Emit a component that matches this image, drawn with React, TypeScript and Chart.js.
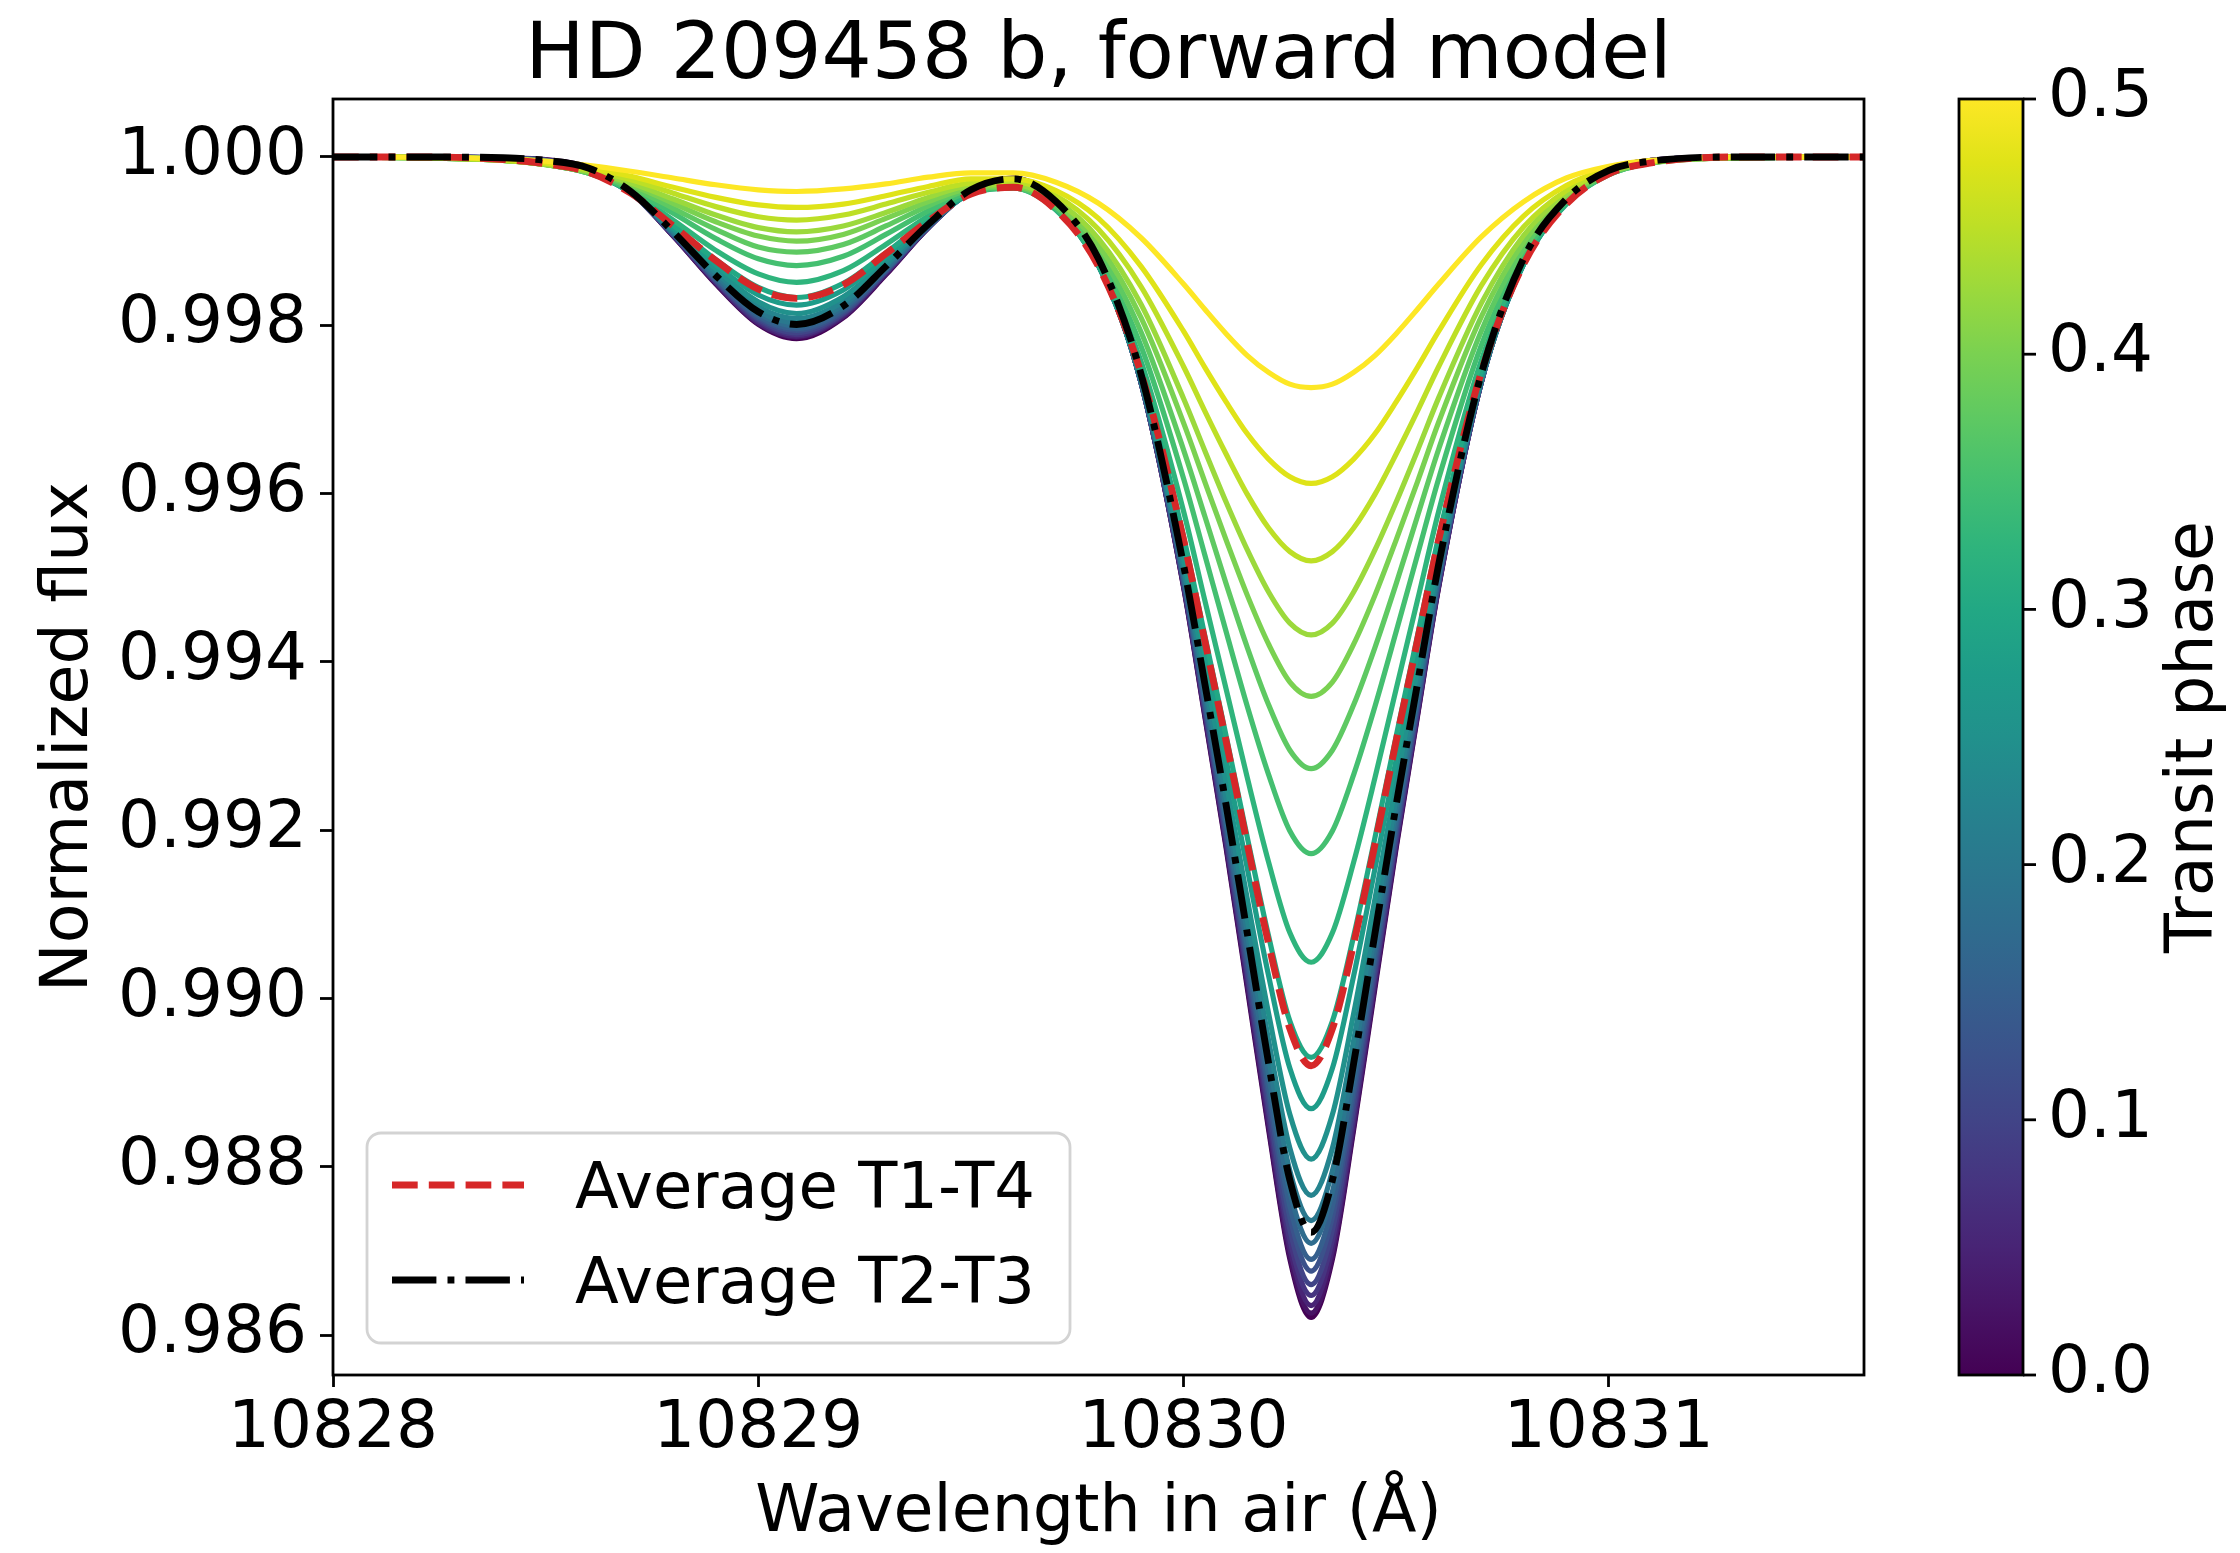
import React, { useEffect, useRef } from "react";
import { Chart, registerables } from "chart.js";

Chart.register(...registerables);

// ---------- text ----------
const TITLE = "HD 209458 b, forward model";
const X_LABEL = "Wavelength in air (Å)";
const Y_LABEL = "Normalized flux";
const CB_LABEL = "Transit phase";
const LEGEND_T1_T4 = "Average T1-T4";
const LEGEND_T2_T3 = "Average T2-T3";

// ---------- ticks ----------
const X_TICKS = [10828, 10829, 10830, 10831];
const Y_TICKS = [0.986, 0.988, 0.99, 0.992, 0.994, 0.996, 0.998, 1.0];
const CB_TICKS = [0, 0.1, 0.2, 0.3, 0.4, 0.5];

// ---------- data ----------
const WAVELENGTHS = [
  10828.0, 10828.2, 10828.4, 10828.5, 10828.6, 10828.7, 10828.8, 10828.9, 10829.0, 10829.09,
  10829.2, 10829.3, 10829.4, 10829.5, 10829.6, 10829.7, 10829.8, 10829.9, 10830.0, 10830.05,
  10830.1, 10830.15, 10830.2, 10830.25, 10830.3, 10830.35, 10830.4, 10830.45, 10830.5, 10830.55,
  10830.6, 10830.7, 10830.8, 10830.9, 10831.0, 10831.1, 10831.3, 10831.6,
];

const PHASES = [0.5, 0.475, 0.45, 0.425, 0.4, 0.375, 0.35, 0.325, 0.3, 0.275, 0.25, 0.225, 0.2, 0.175, 0.15, 0.125, 0.1, 0.075, 0.05, 0.025, 0.0];

const FLUX_P500 = [1.0, 1.0, 0.99998, 0.99995, 0.9999, 0.99983, 0.99975, 0.99967, 0.99961, 0.99959, 0.99962, 0.99968, 0.99976, 0.99981, 0.99981, 0.9997, 0.99945, 0.99904, 0.99849, 0.99819, 0.9979, 0.99764, 0.99744, 0.9973, 0.99726, 0.9973, 0.99744, 0.99764, 0.9979, 0.99819, 0.99849, 0.99905, 0.99947, 0.99975, 0.99989, 0.99996, 1.0, 1.0];
const FLUX_P475 = [1.0, 1.0, 0.99997, 0.99993, 0.99987, 0.99977, 0.99964, 0.99952, 0.99943, 0.9994, 0.99944, 0.99954, 0.99965, 0.99974, 0.99974, 0.9996, 0.99927, 0.9987, 0.99793, 0.9975, 0.99709, 0.99671, 0.99641, 0.9962, 0.99612, 0.9962, 0.99641, 0.99671, 0.99709, 0.9975, 0.99793, 0.99872, 0.9993, 0.99966, 0.99986, 0.99995, 1.0, 1.0];
const FLUX_P450 = [1.0, 0.99999, 0.99996, 0.99992, 0.99985, 0.99973, 0.99957, 0.99941, 0.99929, 0.99925, 0.99931, 0.99944, 0.99958, 0.99969, 0.9997, 0.99954, 0.99914, 0.99846, 0.99751, 0.99698, 0.99647, 0.99599, 0.99559, 0.99531, 0.9952, 0.99531, 0.99559, 0.99599, 0.99647, 0.99698, 0.99751, 0.99847, 0.99917, 0.9996, 0.99984, 0.99994, 1.0, 1.0];
const FLUX_P425 = [1.0, 0.99999, 0.99996, 0.99991, 0.99983, 0.99969, 0.9995, 0.99931, 0.99916, 0.99911, 0.99918, 0.99934, 0.99952, 0.99966, 0.99967, 0.99948, 0.99903, 0.99825, 0.99713, 0.99651, 0.9959, 0.99533, 0.99483, 0.99446, 0.99432, 0.99446, 0.99483, 0.99533, 0.9959, 0.99651, 0.99714, 0.99826, 0.99907, 0.99956, 0.99982, 0.99994, 0.99999, 1.0];
const FLUX_P400 = [1.0, 0.99999, 0.99996, 0.99991, 0.99982, 0.99967, 0.99945, 0.99923, 0.99906, 0.999, 0.99908, 0.99927, 0.99947, 0.99963, 0.99965, 0.99945, 0.99895, 0.99809, 0.99684, 0.99614, 0.99545, 0.99479, 0.99421, 0.99376, 0.99359, 0.99376, 0.99421, 0.99479, 0.99545, 0.99614, 0.99685, 0.9981, 0.99899, 0.99953, 0.99981, 0.99993, 0.99999, 1.0];
const FLUX_P375 = [1.0, 0.99999, 0.99996, 0.99991, 0.99981, 0.99964, 0.99939, 0.99914, 0.99893, 0.99887, 0.99896, 0.99918, 0.99942, 0.99961, 0.99964, 0.99941, 0.99888, 0.99792, 0.99652, 0.99573, 0.99493, 0.99417, 0.99349, 0.99295, 0.99273, 0.99295, 0.99349, 0.99417, 0.99493, 0.99573, 0.99653, 0.99793, 0.99891, 0.99949, 0.9998, 0.99993, 0.99999, 1.0];
const FLUX_P350 = [1.0, 0.99999, 0.99996, 0.99991, 0.99981, 0.99961, 0.99933, 0.99903, 0.99879, 0.99871, 0.99882, 0.99908, 0.99936, 0.99959, 0.99963, 0.99939, 0.9988, 0.99775, 0.99618, 0.99527, 0.99436, 0.99347, 0.99266, 0.99199, 0.99172, 0.99199, 0.99266, 0.99347, 0.99436, 0.99527, 0.99618, 0.99776, 0.99884, 0.99947, 0.99979, 0.99993, 0.99999, 1.0];
const FLUX_P325 = [1.0, 0.99999, 0.99996, 0.99991, 0.99981, 0.99959, 0.99925, 0.99889, 0.99861, 0.99851, 0.99865, 0.99896, 0.9993, 0.99957, 0.99963, 0.99937, 0.99874, 0.99757, 0.99579, 0.99473, 0.99368, 0.99262, 0.99162, 0.99078, 0.99043, 0.99078, 0.99162, 0.99262, 0.99368, 0.99473, 0.99579, 0.99758, 0.99877, 0.99945, 0.99979, 0.99993, 0.99999, 1.0];
const FLUX_P300 = [1.0, 1.0, 0.99997, 0.99992, 0.99982, 0.99958, 0.99919, 0.99878, 0.99845, 0.99833, 0.9985, 0.99886, 0.99925, 0.99957, 0.99964, 0.99938, 0.99871, 0.99745, 0.99549, 0.99431, 0.99312, 0.99191, 0.99074, 0.98973, 0.9893, 0.98973, 0.99074, 0.99191, 0.99312, 0.99431, 0.99549, 0.99746, 0.99874, 0.99944, 0.9998, 0.99993, 1.0, 1.0];
const FLUX_P275 = [1.0, 1.0, 0.99997, 0.99993, 0.99983, 0.99958, 0.99916, 0.99872, 0.99836, 0.99824, 0.99842, 0.99881, 0.99923, 0.99957, 0.99966, 0.99939, 0.99871, 0.9974, 0.99535, 0.9941, 0.99284, 0.99154, 0.99027, 0.98917, 0.98869, 0.98917, 0.99027, 0.99154, 0.99284, 0.9941, 0.99535, 0.99741, 0.99873, 0.99945, 0.9998, 0.99994, 1.0, 1.0];
const FLUX_P250 = [1.0, 1.0, 0.99998, 0.99994, 0.99984, 0.99957, 0.99914, 0.99867, 0.99828, 0.99814, 0.99834, 0.99876, 0.99921, 0.99957, 0.99968, 0.9994, 0.99871, 0.99737, 0.99522, 0.9939, 0.99257, 0.99118, 0.98982, 0.98862, 0.98809, 0.98862, 0.98982, 0.99118, 0.99257, 0.9939, 0.99522, 0.99738, 0.99873, 0.99946, 0.99981, 0.99994, 1.0, 1.0];
const FLUX_P225 = [1.0, 1.0, 0.99998, 0.99994, 0.99984, 0.99957, 0.99912, 0.99863, 0.99822, 0.99808, 0.99828, 0.99872, 0.9992, 0.99958, 0.99969, 0.99941, 0.99871, 0.99735, 0.99513, 0.99377, 0.99238, 0.99093, 0.9895, 0.98822, 0.98766, 0.98822, 0.9895, 0.99093, 0.99238, 0.99377, 0.99513, 0.99735, 0.99873, 0.99946, 0.99982, 0.99994, 1.0, 1.0];
const FLUX_P200 = [1.0, 1.0, 0.99998, 0.99995, 0.99985, 0.99958, 0.99911, 0.9986, 0.99817, 0.99803, 0.99824, 0.9987, 0.99919, 0.99959, 0.9997, 0.99943, 0.99872, 0.99734, 0.99508, 0.99368, 0.99226, 0.99077, 0.98928, 0.98795, 0.98736, 0.98795, 0.98928, 0.99077, 0.99226, 0.99368, 0.99508, 0.99734, 0.99874, 0.99947, 0.99982, 0.99995, 1.0, 1.0];
const FLUX_P175 = [1.0, 1.0, 0.99998, 0.99995, 0.99986, 0.99958, 0.99909, 0.99857, 0.99814, 0.99799, 0.99821, 0.99867, 0.99918, 0.99959, 0.99971, 0.99944, 0.99873, 0.99733, 0.99503, 0.9936, 0.99215, 0.99061, 0.98908, 0.9877, 0.98709, 0.9877, 0.98908, 0.99061, 0.99215, 0.9936, 0.99503, 0.99733, 0.99874, 0.99948, 0.99983, 0.99995, 1.0, 1.0];
const FLUX_P150 = [1.0, 1.0, 0.99999, 0.99995, 0.99986, 0.99958, 0.99909, 0.99856, 0.99811, 0.99796, 0.99818, 0.99866, 0.99917, 0.99959, 0.99972, 0.99944, 0.99873, 0.99733, 0.995, 0.99354, 0.99207, 0.99051, 0.98894, 0.98753, 0.9869, 0.98753, 0.98894, 0.99051, 0.99207, 0.99354, 0.995, 0.99733, 0.99875, 0.99948, 0.99983, 0.99995, 1.0, 1.0];
const FLUX_P125 = [1.0, 1.0, 0.99999, 0.99996, 0.99986, 0.99958, 0.99908, 0.99854, 0.99809, 0.99794, 0.99816, 0.99865, 0.99917, 0.9996, 0.99972, 0.99945, 0.99874, 0.99732, 0.99497, 0.99351, 0.99202, 0.99043, 0.98884, 0.9874, 0.98676, 0.9874, 0.98884, 0.99043, 0.99202, 0.99351, 0.99498, 0.99733, 0.99875, 0.99948, 0.99983, 0.99995, 1.0, 1.0];
const FLUX_P100 = [1.0, 1.0, 0.99999, 0.99996, 0.99987, 0.99958, 0.99908, 0.99853, 0.99807, 0.99791, 0.99814, 0.99864, 0.99917, 0.9996, 0.99973, 0.99946, 0.99875, 0.99732, 0.99495, 0.99346, 0.99195, 0.99034, 0.98872, 0.98725, 0.9866, 0.98725, 0.98872, 0.99034, 0.99195, 0.99346, 0.99495, 0.99732, 0.99876, 0.99949, 0.99984, 0.99995, 1.0, 1.0];
const FLUX_P075 = [1.0, 1.0, 0.99999, 0.99996, 0.99987, 0.99958, 0.99907, 0.99852, 0.99805, 0.99789, 0.99813, 0.99863, 0.99916, 0.9996, 0.99974, 0.99946, 0.99875, 0.99732, 0.99493, 0.99343, 0.9919, 0.99028, 0.98863, 0.98713, 0.98647, 0.98713, 0.98863, 0.99028, 0.9919, 0.99343, 0.99493, 0.99732, 0.99876, 0.99949, 0.99984, 0.99996, 1.0, 1.0];
const FLUX_P050 = [1.0, 1.0, 0.99999, 0.99996, 0.99987, 0.99958, 0.99907, 0.99851, 0.99803, 0.99787, 0.99811, 0.99862, 0.99916, 0.9996, 0.99974, 0.99947, 0.99876, 0.99732, 0.99491, 0.9934, 0.99186, 0.99021, 0.98854, 0.98703, 0.98635, 0.98703, 0.98854, 0.99021, 0.99186, 0.9934, 0.99491, 0.99732, 0.99877, 0.9995, 0.99984, 0.99996, 1.0, 1.0];
const FLUX_P025 = [1.0, 1.0, 0.99999, 0.99996, 0.99988, 0.99958, 0.99906, 0.9985, 0.99802, 0.99786, 0.9981, 0.99861, 0.99916, 0.99961, 0.99975, 0.99947, 0.99876, 0.99732, 0.9949, 0.99337, 0.99182, 0.99016, 0.98848, 0.98694, 0.98626, 0.98694, 0.98848, 0.99016, 0.99182, 0.99337, 0.9949, 0.99732, 0.99877, 0.9995, 0.99985, 0.99996, 1.0, 1.0];
const FLUX_P000 = [1.0, 1.0, 0.99999, 0.99997, 0.99988, 0.99958, 0.99906, 0.99849, 0.99801, 0.99784, 0.99809, 0.9986, 0.99916, 0.99961, 0.99975, 0.99948, 0.99876, 0.99732, 0.99489, 0.99335, 0.99179, 0.99012, 0.98844, 0.9869, 0.98621, 0.9869, 0.98844, 0.99012, 0.99179, 0.99335, 0.99489, 0.99732, 0.99877, 0.9995, 0.99985, 0.99996, 1.0, 1.0];

const PHASE_CURVES = [
  FLUX_P500, FLUX_P475, FLUX_P450, FLUX_P425, FLUX_P400, FLUX_P375, FLUX_P350,
  FLUX_P325, FLUX_P300, FLUX_P275, FLUX_P250, FLUX_P225, FLUX_P200, FLUX_P175,
  FLUX_P150, FLUX_P125, FLUX_P100, FLUX_P075, FLUX_P050, FLUX_P025, FLUX_P000,
];

const AVG_T1_T4 = [1.0, 1.0, 0.99997, 0.99992, 0.99982, 0.99957, 0.99918, 0.99877, 0.99843, 0.99832, 0.99848, 0.99885, 0.99924, 0.99956, 0.99964, 0.99937, 0.9987, 0.99743, 0.99545, 0.99425, 0.99306, 0.99183, 0.99065, 0.98964, 0.9892, 0.98964, 0.99065, 0.99183, 0.99306, 0.99425, 0.99545, 0.99744, 0.99873, 0.99944, 0.9998, 0.99993, 1.0, 1.0];
const AVG_T2_T3 = [1.0, 1.0, 0.99999, 0.99996, 0.99987, 0.99959, 0.99911, 0.99859, 0.99816, 0.99801, 0.99823, 0.9987, 0.9992, 0.99961, 0.99974, 0.99947, 0.99879, 0.99742, 0.99515, 0.99374, 0.9923, 0.99077, 0.98923, 0.98784, 0.98722, 0.98784, 0.98923, 0.99077, 0.9923, 0.99374, 0.99516, 0.99742, 0.9988, 0.9995, 0.99984, 0.99995, 1.0, 1.0];

// ---------- styling ----------
const FONT = "'DejaVu Sans', 'Noto Sans', sans-serif";
const PHASE_MAX = 0.5;
const VIRIDIS = [
  "#440154", "#471365", "#482475", "#463480", "#414487", "#3b528b", "#355f8d",
  "#2f6c8e", "#2a788e", "#25848e", "#21918c", "#1e9c89", "#22a884", "#2fb47c",
  "#44bf70", "#5ec962", "#7ad151", "#9bd93c", "#bddf26", "#dfe318", "#fde725",
];

function hexToRgb(h: string) {
  const n = parseInt(h.slice(1), 16);
  return [(n >> 16) & 255, (n >> 8) & 255, n & 255];
}
function viridis(t: number) {
  const tt = Math.max(0, Math.min(1, t));
  const n = VIRIDIS.length - 1;
  const f = tt * n;
  const i = Math.min(Math.floor(f), n - 1);
  const u = f - i;
  const a = hexToRgb(VIRIDIS[i]);
  const b = hexToRgb(VIRIDIS[i + 1]);
  const c = a.map((v, k) => Math.round(v + (b[k] - v) * u));
  return `rgb(${c[0]},${c[1]},${c[2]})`;
}

const RED = "#d62728";
const RED_DASH = [25.7, 11.1];
const BLACK_DASH = [44.4, 11.1, 6.9, 11.1];

const toPoints = (ys: number[]) => WAVELENGTHS.map((x, i) => ({ x, y: ys[i] }));

const decorPlugin = {
  id: "decor",
  afterDraw(chart: any) {
    const { ctx, chartArea: ca } = chart;
    const cb = chart.scales.cb;
    ctx.save();
    ctx.setLineDash([]);

    // axes frame
    ctx.strokeStyle = "#000";
    ctx.lineWidth = 2.8;
    ctx.strokeRect(ca.left, ca.top, ca.right - ca.left, ca.bottom - ca.top);

    // title
    ctx.fillStyle = "#000";
    ctx.font = `79px ${FONT}`;
    ctx.textAlign = "center";
    ctx.textBaseline = "alphabetic";
    ctx.fillText(TITLE, (ca.left + ca.right) / 2, ca.top - 21);

    // legend
    const bx = ca.left + 34;
    const by = ca.bottom - 242;
    const bw = 703;
    const bh = 210;
    ctx.beginPath();
    if (ctx.roundRect) ctx.roundRect(bx, by, bw, bh, 14);
    else ctx.rect(bx, by, bw, bh);
    ctx.fillStyle = "rgba(255,255,255,0.8)";
    ctx.fill();
    ctx.strokeStyle = "#d3d3d3";
    ctx.lineWidth = 2.8;
    ctx.stroke();

    const items = [
      { label: LEGEND_T1_T4, color: RED, dash: RED_DASH, y: by + 52 },
      { label: LEGEND_T2_T3, color: "#000", dash: BLACK_DASH, y: by + 147 },
    ];
    for (const it of items) {
      ctx.beginPath();
      ctx.setLineDash(it.dash);
      ctx.strokeStyle = it.color;
      ctx.lineWidth = 6.9;
      ctx.lineCap = "butt";
      ctx.moveTo(bx + 25, it.y);
      ctx.lineTo(bx + 157, it.y);
      ctx.stroke();
      ctx.setLineDash([]);
      ctx.fillStyle = "#000";
      ctx.font = `64px ${FONT}`;
      ctx.textAlign = "left";
      ctx.textBaseline = "alphabetic";
      ctx.fillText(it.label, bx + 208, it.y + 23);
    }

    // colorbar
    const y0 = cb.getPixelForValue(0);
    const y1 = cb.getPixelForValue(PHASE_MAX);
    const cx = ca.right + 95;
    const cw = 64;
    const grad = ctx.createLinearGradient(0, y0, 0, y1);
    VIRIDIS.forEach((c, i) => grad.addColorStop(i / (VIRIDIS.length - 1), c));
    ctx.fillStyle = grad;
    ctx.fillRect(cx, y1, cw, y0 - y1);
    ctx.strokeStyle = "#000";
    ctx.lineWidth = 2.8;
    ctx.strokeRect(cx, y1, cw, y0 - y1);

    ctx.font = `66px ${FONT}`;
    ctx.fillStyle = "#000";
    ctx.textAlign = "left";
    ctx.textBaseline = "middle";
    for (const v of CB_TICKS) {
      const y = cb.getPixelForValue(v);
      ctx.beginPath();
      ctx.moveTo(cx + cw, y);
      ctx.lineTo(cx + cw + 13, y);
      ctx.stroke();
      ctx.fillText(v.toFixed(1), cx + cw + 25, y);
    }

    ctx.save();
    ctx.translate(cx + cw + 189, (y0 + y1) / 2);
    ctx.rotate(-Math.PI / 2);
    ctx.font = `65px ${FONT}`;
    ctx.textAlign = "center";
    ctx.textBaseline = "alphabetic";
    ctx.fillText(CB_LABEL, 0, 0);
    ctx.restore();

    ctx.restore();
  },
};

export default function App() {
  const ref = useRef<HTMLCanvasElement>(null);

  useEffect(() => {
    document.body.style.margin = "0";
    const canvas = ref.current;
    if (!canvas) return;

    const colored = PHASE_CURVES.map((ys, i) => ({
      label: `phase ${PHASES[i]}`,
      data: toPoints(ys),
      borderColor: viridis(PHASES[i] / PHASE_MAX),
      borderWidth: 5.2,
      pointRadius: 0,
      fill: false,
      cubicInterpolationMode: "monotone" as const,
    }));

    const datasets = [
      {
        label: LEGEND_T2_T3,
        data: toPoints(AVG_T2_T3),
        borderColor: "#000",
        borderWidth: 6.9,
        borderDash: BLACK_DASH,
        pointRadius: 0,
        fill: false,
        cubicInterpolationMode: "monotone" as const,
      },
      {
        label: LEGEND_T1_T4,
        data: toPoints(AVG_T1_T4),
        borderColor: RED,
        borderWidth: 6.9,
        borderDash: RED_DASH,
        pointRadius: 0,
        fill: false,
        cubicInterpolationMode: "monotone" as const,
      },
      ...colored,
    ];

    const tickFont = { family: FONT, size: 66, lineHeight: 1.2 };
    const labelFont = { family: FONT, size: 65, lineHeight: 1.2 };

    const chart = new Chart(canvas, {
      type: "line",
      data: { datasets } as any,
      options: {
        animation: false,
        responsive: false,
        maintainAspectRatio: false,
        devicePixelRatio: 1,
        events: [],
        layout: { padding: { left: 0, top: 99, right: 376, bottom: 0 } },
        plugins: {
          legend: { display: false },
          title: { display: false },
          tooltip: { enabled: false },
        },
        elements: { line: { borderCapStyle: "butt", borderJoinStyle: "round" }, point: { radius: 0 } },
        scales: {
          x: {
            type: "linear",
            position: "bottom",
            min: 10828,
            max: 10831.6,
            afterBuildTicks: (s: any) => {
              s.ticks = X_TICKS.map((v) => ({ value: v }));
            },
            afterFit: (s: any) => {
              s.height = 178;
            },
            grid: { display: true, drawOnChartArea: false, drawTicks: true, tickLength: 12, tickWidth: 2.8, tickColor: "#000" },
            border: { display: false },
            ticks: {
              color: "#000",
              font: tickFont,
              padding: 3,
              maxRotation: 0,
              autoSkip: false,
              callback: (v: any) => String(v),
            },
            title: { display: true, text: X_LABEL, color: "#000", font: labelFont, padding: { top: 0, bottom: 0 } },
          },
          y: {
            type: "linear",
            position: "left",
            min: 0.985525,
            max: 1.000689,
            afterBuildTicks: (s: any) => {
              s.ticks = Y_TICKS.map((v) => ({ value: v }));
            },
            afterFit: (s: any) => {
              s.width = 333;
            },
            grid: { display: true, drawOnChartArea: false, drawTicks: true, tickLength: 13, tickWidth: 2.8, tickColor: "#000" },
            border: { display: false },
            ticks: {
              color: "#000",
              font: tickFont,
              padding: 13,
              autoSkip: false,
              callback: (v: any) => Number(v).toFixed(3),
            },
            title: { display: true, text: Y_LABEL, color: "#000", font: labelFont, padding: { top: 31, bottom: 0 } },
          },
          cb: {
            type: "linear",
            position: "right",
            display: false,
            min: 0,
            max: PHASE_MAX,
          },
        },
      } as any,
      plugins: [decorPlugin],
    });

    return () => chart.destroy();
  }, []);

  return (
    <canvas
      ref={ref}
      width={2240}
      height={1553}
      style={{ display: "block", width: "2240px", height: "1553px" }}
    />
  );
}
